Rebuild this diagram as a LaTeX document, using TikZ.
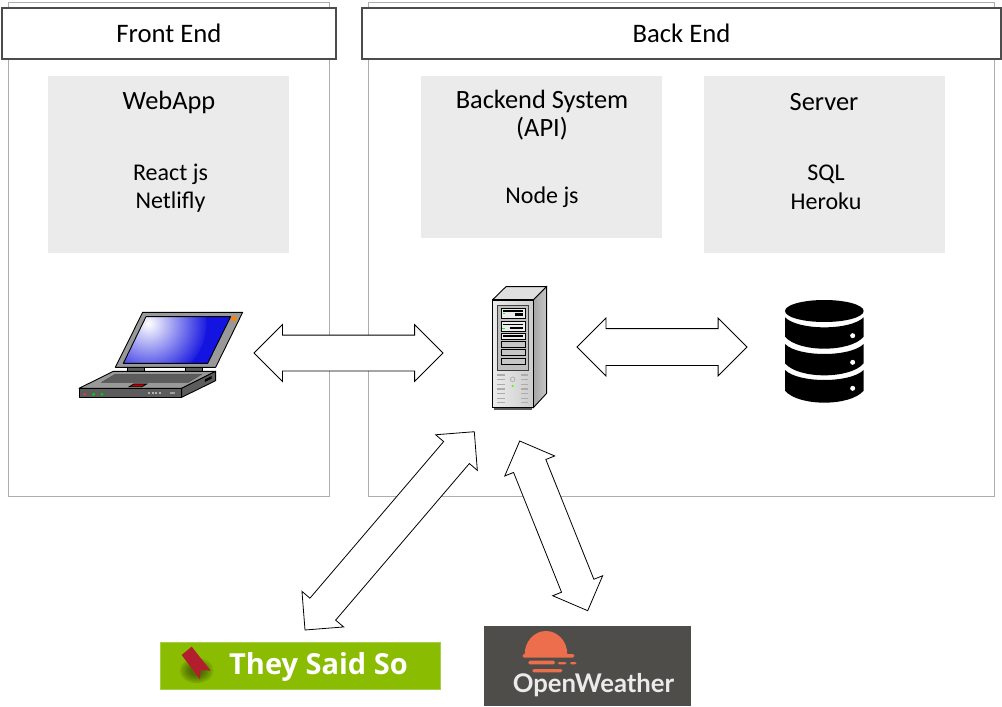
\documentclass[tikz,border=0pt]{standalone}
\usepackage{fontspec}
\setmainfont{Carlito}
\newfontfamily\logofont{Open Sans}
\newfontfamily\weatherfont{Lato}
\usetikzlibrary{calc, shapes.arrows}
\definecolor{panelline}{gray}{0.68}
\definecolor{headline}{gray}{0.3}
\definecolor{zonefill}{gray}{0.92}
\definecolor{quotegreen}{HTML}{8ABC02}
\definecolor{quoteedge}{HTML}{A6CF45}
\definecolor{quotered}{HTML}{B21E2E}
\definecolor{weathergrey}{HTML}{4F4D49}
\definecolor{weatherorange}{HTML}{EC6E4C}
\definecolor{lapgrey}{gray}{0.6}
\definecolor{lapdark}{gray}{0.36}
\definecolor{lapblue}{HTML}{1414E0}
\tikzset{
  panelbox/.style  = {draw=panelline, line width=1pt, fill=white, anchor=north west,
                      inner sep=0pt, outer sep=0pt},
  headbox/.style   = {draw=headline, line width=1.3pt, fill=white, anchor=north west,
                      inner sep=0pt, outer sep=0pt, font=\fontsize{26.7}{31}\selectfont},
  zonebox/.style   = {fill=zonefill, anchor=north west, inner sep=0pt, outer sep=0pt},
  zonetitle/.style = {align=center, inner sep=0pt, font=\fontsize{26.4}{28.5}\selectfont},
  zonetxt/.style   = {align=center, inner sep=0pt, font=\fontsize{24}{28.5}\selectfont},
  blockarrow/.style = {draw=black, line width=0.8pt, fill=white, double arrow,
                      double arrow tip angle=90, outer sep=0pt},
  icon/.style      = {line width=0.9pt, draw=black, line join=round}
}
% block arrow between two named coordinates: from, to, half shaft, head extend
\newcommand{\twoway}[4]{%
  \path let \p1 = ($(#2)-(#1)$), \n1 = {atan2(\y1,\x1)}, \n2 = {veclen(\x1,\y1)} in
    node[blockarrow, minimum height=\n2, inner sep=#3, double arrow head extend=#4,
         rotate=\n1] at ($(#1)!0.5!(#2)$) {};}
\begin{document}
\begin{tikzpicture}[x=1pt, y=-1pt]
  \useasboundingbox (0,0) rectangle (1002,707);

  \node[panelbox, minimum width=321pt, minimum height=494pt] (frontpanel) at (8.5,2) {};
  \node[panelbox, minimum width=626pt, minimum height=494pt] (backpanel)  at (368,2) {};
  \node[headbox, minimum width=334pt, minimum height=51pt] (fronthead) at (2,8) {Front End};
  \node[headbox, minimum width=639pt, minimum height=51pt] (backhead)  at (362,8) {Back End};

  \node[zonebox, minimum width=241pt, minimum height=177pt] (webapp)  at (48,76)  {};
  \node[zonebox, minimum width=241pt, minimum height=162pt] (backsys) at (421,76) {};
  \node[zonebox, minimum width=241pt, minimum height=177pt] (server)  at (704,76) {};

  \node[zonetitle] (webapptitle) at (169,102)   {WebApp};
  \node[zonetxt]   (webappstack) at (170.5,188) {React js\\Netlifly};
  \node[zonetitle] (backtitle)   at (542,115)   {Backend System\\(API)};
  \node[zonetxt]   (backstack)   at (542,197)   {Node js};
  \node[zonetitle] (servertitle) at (824,102)   {Server};
  \node[zonetxt]   (serverstack) at (826,187.5) {SQL\\Heroku};

  % laptop
  \begin{scope}[shift={(60,290)}, x=0.3333pt, y=-0.3333pt]
    \fill[lapdark, draw=black, line width=0.8pt] (203,232) rectangle (252,245);
    \fill[lapdark, draw=black, line width=0.8pt] (377,232) rectangle (427,245);
    \filldraw[icon, fill=lapgrey] (248,67) -- (548,67) -- (467,232) -- (166,232) -- cycle;
    \begin{scope}
      \clip (258,80) -- (512,80) -- (443,220) -- (190,220) -- cycle;
      \shade[inner color=white, outer color=lapblue] (265,100) circle (180);
      \fill[lapblue, even odd rule] (265,100) circle (175) (265,100) circle (600);
    \end{scope}
    \draw[icon] (258,80) -- (512,80) -- (443,220) -- (190,220) -- cycle;
    \fill[orange] (522,86) circle (8);
    \filldraw[icon, fill=lapgrey] (160,244) -- (467,244) -- (365,295) -- (57,295) -- cycle;
    \filldraw[icon, fill=lapdark] (57,295) rectangle (365,322);
    \filldraw[icon, fill=lapdark] (365,295) -- (467,244) -- (467,272) -- (365,322) -- cycle;
    \filldraw[draw=black!70, fill=lapdark, line width=0.4pt] (125,277) -- (165,253) -- (425,253) -- (385,277) -- cycle;
    \filldraw[draw=black, fill=red!75!black, line width=0.8pt] (208,290) -- (222,282) -- (260,282) -- (246,290) -- cycle;
    \fill[black] (435,268) -- (455,258) -- (455,266) -- (435,276) -- cycle;
    \fill[red!80!white] (74,313) circle (4);
    \fill[green!80!black] (101,313) circle (5);
    \fill[green!80!black] (126,313) circle (5);
    \foreach \btnx in {267,278,289,300} {
      \fill[gray!60] (\btnx-3,305) rectangle (\btnx+3,312);
    }
    \fill[gray!75] (330,306) rectangle (345,311);
  \end{scope}

  % server tower
  \begin{scope}[shift={(470,275)}, x=0.3333pt, y=-0.3333pt]
    \fill[black!65] (72,398) rectangle (187,405);
    \filldraw[icon, fill=gray!25] (67,75) -- (108,35) -- (230,35) -- (190,75) -- cycle;
    \shade[left color=gray!70, right color=gray!45, draw=black, line width=0.9pt]
      (190,75) -- (230,35) -- (230,355) -- (190,398) -- cycle;
    \shade[left color=gray!15, right color=gray!40, draw=black, line width=1.1pt]
      (67,75) rectangle (190,398);
    \filldraw[draw=black!75, fill=gray!50, line width=0.9pt] (83,92) rectangle (175,285);
    \foreach \slottop/\slotbot/\slotfill in {100/130/gray!15, 140/168/gray!15, 175/192/gray!15,
                                            199/217/gray!45, 224/242/gray!45, 250/268/gray!45} {
      \filldraw[draw=black, fill=\slotfill, line width=0.9pt] (93,\slottop) rectangle (165,\slotbot);
    }
    \fill[black] (100,106) rectangle (160,111);
    \fill[black] (135,113) rectangle (160,122);
    \fill[black] (100,146) rectangle (160,151);
    \fill[black] (120,156) rectangle (160,163);
    \fill[black] (100,180) rectangle (160,187);
    \fill[green] (98,113) rectangle (106,118);
    \fill[green] (96,159) rectangle (104,162);
    \foreach \ventrow in {298,312,326,340,354,368,380} {
      \fill[gray!65] (81,\ventrow) rectangle (104,\ventrow+4);
      \fill[gray!65] (153,\ventrow) rectangle (175,\ventrow+4);
    }
    \draw[gray!60, line width=0.8pt] (128,313) circle (7);
    \fill[green!70!yellow] (128,333) circle (3.5);
  \end{scope}

  % database
  \begin{scope}[shift={(770,290)}, x=0.3333pt, y=-0.3333pt]
    \fill[black] (163,63) ellipse [x radius=118, y radius=33];
    \foreach \layertop/\layerh in {82/58,162/58,240/62} {
      \fill[black] (45,\layertop) .. controls (85,\layertop+40) and (241,\layertop+40) .. (281,\layertop)
        -- (281,\layertop+\layerh) .. controls (241,\layertop+\layerh+48) and (85,\layertop+\layerh+48) .. (45,\layertop+\layerh) -- cycle;
      \fill[white] (248,\layertop+55) circle (7.5);
    }
  \end{scope}

  % they said so logo
  \node[draw=quoteedge, fill=quotegreen, line width=1pt, anchor=north west, inner sep=0pt,
        minimum width=280pt, minimum height=47pt] (quotelogo) at (160,642.3) {};
  \begin{scope}[shift={(150,620)}, x=0.3333pt, y=-0.3333pt]
    \foreach \shadowrad in {50,43,36,29,22} {
      \fill[black!80!quotegreen, opacity=0.13] (140,152) ellipse [x radius=\shadowrad, y radius=0.75*\shadowrad];
    }
    \fill[quotered] (95,105) -- (125,80) -- (182,152) -- (152,150) -- (150,178) -- cycle;
  \end{scope}
  \node[text=white, inner sep=0pt, font=\logofont\bfseries\fontsize{29}{32}\selectfont] (quotetxt) at (318.5,666.5) {They Said So};

  % open weather logo
  \node[fill=weathergrey, anchor=north west, inner sep=0pt,
        minimum width=207.5pt, minimum height=80pt] (weatherlogo) at (483.5,626) {};
  \begin{scope}[shift={(475,620)}, x=0.3333pt, y=-0.3333pt]
    \fill[weatherorange] (149,103) arc [start angle=180, end angle=360, x radius=64, y radius=70] -- cycle;
    \fill[weatherorange, rounded corners=1.5pt] (143,102) rectangle (298,113);
    \fill[weatherorange, rounded corners=1.5pt] (160,122) rectangle (240,133);
    \fill[weatherorange, rounded corners=1.5pt] (248,126) rectangle (275,133);
    \fill[weatherorange, rounded corners=1.5pt] (285,126) rectangle (305,133);
    \fill[weatherorange, rounded corners=1.5pt] (172,147) rectangle (262,157);
  \end{scope}
  \node[text=white!92!black, inner sep=0pt, font=\weatherfont\bfseries\fontsize{25.7}{30}\selectfont] (weathertxt) at (593.5,685) {OpenWeather};

  \coordinate (laptopend)  at (254,353);
  \coordinate (towerwest)  at (443,353);
  \coordinate (towereast)  at (577,347);
  \coordinate (dbend)      at (747,347);
  \coordinate (towersw)    at (474.3,431.7);
  \coordinate (quoteend)   at (305,630);
  \coordinate (towerse)    at (519.7,441);
  \coordinate (weatherend) at (587.7,610.7);

  \twoway{laptopend}{towerwest}{17.5pt}{10.5pt}
  \twoway{towereast}{dbend}{18pt}{10.5pt}
  \twoway{towersw}{quoteend}{16.5pt}{10.5pt}
  \twoway{towerse}{weatherend}{17pt}{9.5pt}
\end{tikzpicture}
\end{document}
